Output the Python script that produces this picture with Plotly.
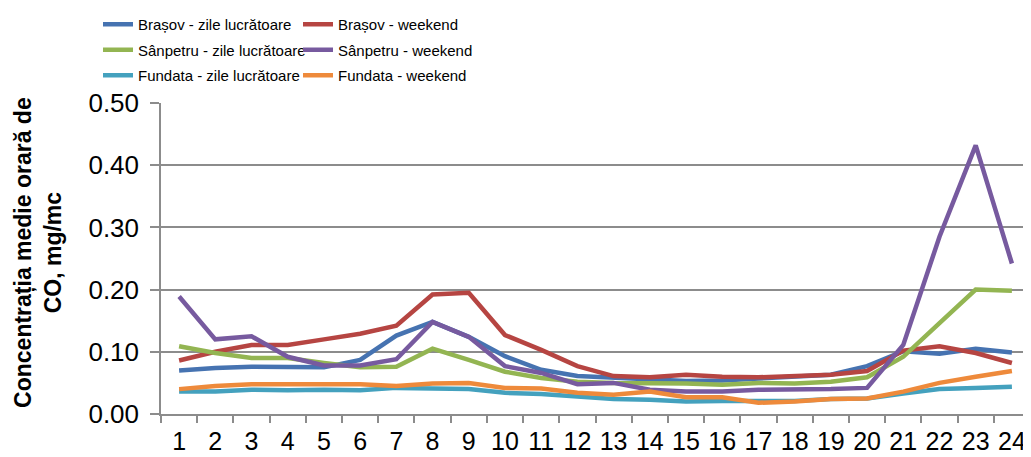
import plotly.graph_objects as go

hours = [str(h) for h in range(1, 25)]

brasov_zile = [0.070, 0.074, 0.076, 0.075, 0.075, 0.087, 0.126, 0.148, 0.124, 0.093, 0.071, 0.061,
               0.058, 0.055, 0.053, 0.054, 0.057, 0.061, 0.063, 0.077, 0.101, 0.097, 0.105, 0.099]
brasov_weekend = [0.086, 0.100, 0.111, 0.111, 0.120, 0.129, 0.142, 0.192, 0.195, 0.127, 0.103, 0.077,
                  0.061, 0.059, 0.063, 0.060, 0.059, 0.061, 0.063, 0.069, 0.102, 0.109, 0.098, 0.082]
sanpetru_zile = [0.109, 0.098, 0.090, 0.090, 0.082, 0.075, 0.076, 0.105, 0.087, 0.068, 0.058, 0.052,
                 0.050, 0.050, 0.049, 0.047, 0.050, 0.049, 0.052, 0.059, 0.092, 0.146, 0.200, 0.198]
sanpetru_weekend = [0.189, 0.120, 0.125, 0.092, 0.078, 0.078, 0.088, 0.148, 0.124, 0.077, 0.066, 0.048,
                    0.050, 0.039, 0.036, 0.036, 0.039, 0.039, 0.040, 0.042, 0.111, 0.285, 0.432, 0.242]
fundata_zile = [0.036, 0.036, 0.039, 0.038, 0.039, 0.038, 0.042, 0.041, 0.040, 0.034, 0.032, 0.028,
                0.024, 0.023, 0.020, 0.021, 0.021, 0.021, 0.024, 0.025, 0.033, 0.040, 0.042, 0.044]
fundata_weekend = [0.040, 0.045, 0.048, 0.048, 0.048, 0.048, 0.045, 0.049, 0.050, 0.042, 0.041, 0.034,
                   0.031, 0.036, 0.027, 0.027, 0.018, 0.020, 0.024, 0.025, 0.036, 0.050, 0.060, 0.069]

series = [
    ("Brașov - zile lucrătoare", brasov_zile, "#4673B1", "legend"),
    ("Brașov - weekend", brasov_weekend, "#B64542", "legend2"),
    ("Sânpetru - zile lucrătoare", sanpetru_zile, "#93B552", "legend"),
    ("Sânpetru - weekend", sanpetru_weekend, "#775A9F", "legend2"),
    ("Fundata - zile lucrătoare", fundata_zile, "#44A1BE", "legend"),
    ("Fundata - weekend", fundata_weekend, "#EE8A3B", "legend2"),
]

# page body has an 8px margin; the figure is sized to fit inside the window
W, H = 1023, 449
ML, MR, MT, MB = 153, 1, 95, 43

fig = go.Figure()
for i, (name, vals, col, leg) in enumerate(series):
    fig.add_trace(go.Scatter(
        x=hours, y=vals, name=name, mode="lines",
        line=dict(color=col, width=4.5),
        legend=leg, legendgroup=f"g{i}",
    ))

legfont = dict(family="Liberation Sans, Arial", size=15, color="#000")
fig.update_layout(
    width=W, height=H,
    margin=dict(l=ML, r=MR, t=MT, b=MB, autoexpand=False),
    paper_bgcolor="white", plot_bgcolor="white",
    font=dict(family="Liberation Sans, Arial", color="#000"),
    legend=dict(xref="container", yref="container", x=90 / W, y=1 - 0 / H,
                xanchor="left", yanchor="top", font=legfont, tracegroupgap=3,
                itemwidth=30, bgcolor="rgba(0,0,0,0)"),
    legend2=dict(xref="container", yref="container", x=290 / W, y=1 - 0 / H,
                 xanchor="left", yanchor="top", font=legfont, tracegroupgap=3,
                 itemwidth=30, bgcolor="rgba(0,0,0,0)"),
    xaxis=dict(
        type="category", range=[-0.5, 23.5],
        showgrid=False, showline=True, linecolor="#8C8C8C", linewidth=1.5,
        ticks="outside", tickson="boundaries", ticklen=7, tickcolor="#8C8C8C", tickwidth=1.5,
        tickfont=dict(size=25, color="#000"), tickangle=0, ticklabelstandoff=4,
    ),
    yaxis=dict(
        range=[0, 0.5], dtick=0.1, tickformat=".2f",
        showgrid=True, gridcolor="#8C8C8C", gridwidth=1.5,
        showline=True, linecolor="#8C8C8C", linewidth=1.5, mirror=True,
        ticks="outside", ticklen=9, tickcolor="#8C8C8C", tickwidth=1.5,
        tickfont=dict(size=26, color="#000"), ticklabelstandoff=6,
        zeroline=False,
    ),
    annotations=[dict(
        text="<b>Concentrația medie orară de<br>CO, mg/mc</b>",
        xref="paper", yref="paper", x=(30 - ML) / (W - ML - MR), y=0.518,
        xanchor="center", yanchor="middle", textangle=-90, showarrow=False,
        font=dict(size=23, color="#000", family="Liberation Sans, Arial"),
    )],
)

fig.write_html("out.html")
